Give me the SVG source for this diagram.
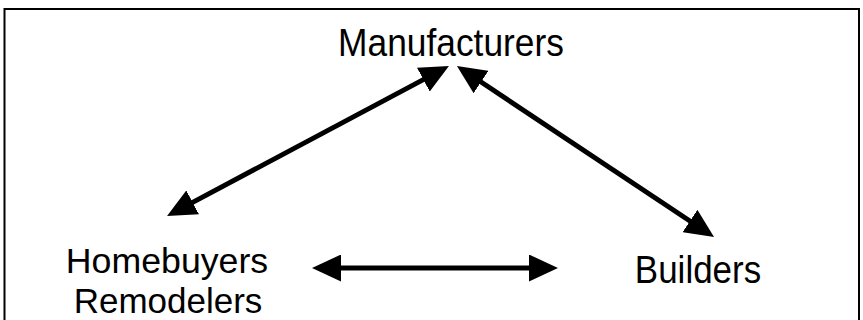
<svg xmlns="http://www.w3.org/2000/svg" width="863" height="320" viewBox="0 0 863 320">
<style>
.lbl{font-family:"Liberation Sans",Arial,sans-serif;font-size:38px;fill:#000;text-anchor:middle}
.sm{font-size:35px}
.con{stroke:#000;stroke-width:5;fill:none;marker-start:url(#ah);marker-end:url(#ah)}
</style>
<defs>
<marker id="ah" markerUnits="userSpaceOnUse" markerWidth="29" markerHeight="27" refX="9" refY="13.5" orient="auto-start-reverse" viewBox="0 0 29 27">
<path d="M0,0 L29,13.5 L0,27 z" fill="#000"/>
</marker>
</defs>
<rect x="0" y="0" width="863" height="320" fill="#fff"/>
<rect x="4.5" y="9" width="854.5" height="330" fill="none" stroke="#000" stroke-width="2"/>
<g id="manufacturers"><text class="lbl" transform="translate(451,56) scale(0.93,1)">Manufacturers</text></g>
<g id="homebuyers"><text class="lbl sm" transform="translate(167,273) scale(1.02,1)">Homebuyers</text><text class="lbl sm" transform="translate(168,313)">Remodelers</text></g>
<g id="builders"><text class="lbl" transform="translate(698,283) scale(0.92,1)">Builders</text></g>
<g id="connectors">
<line class="con" x1="431.3" y1="75.4" x2="184.7" y2="206.6"/>
<line class="con" x1="473.6" y1="77" x2="697.4" y2="226"/>
<line class="con" x1="332" y1="268" x2="538" y2="268"/>
</g>
</svg>
